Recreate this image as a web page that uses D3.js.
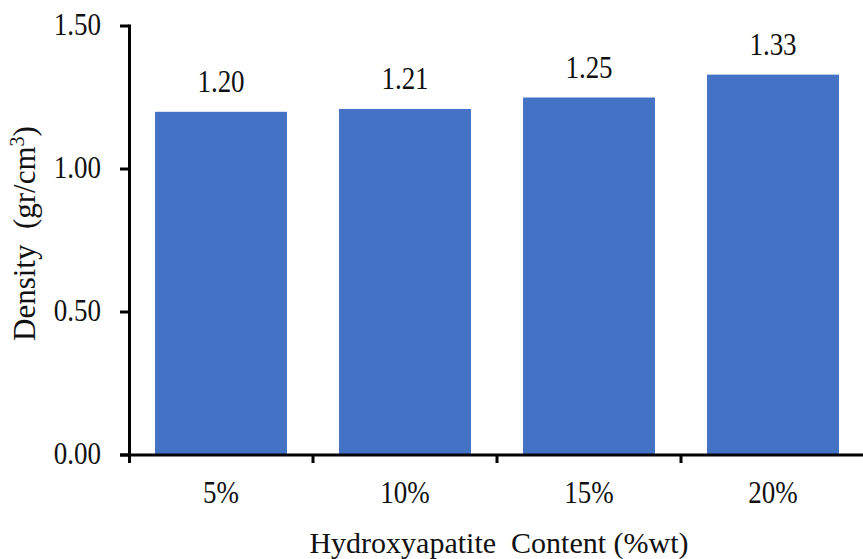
<!DOCTYPE html>
<html><head><meta charset="utf-8">
<script src="https://cdn.jsdelivr.net/npm/d3@7"></script>
<style>body{margin:0;background:#fff}svg{display:block}text{font-family:"Liberation Serif","Times New Roman",serif;fill:#111}</style>
</head><body><svg id="c" width="863" height="559"></svg>
<script>
const categories = ["5%", "10%", "15%", "20%"];
const densities = [1.20, 1.21, 1.25, 1.33];
const valueLabels = ["1.20", "1.21", "1.25", "1.33"];
const yTicks = [0, 0.5, 1.0, 1.5];

const svg = d3.select("#c");
const x0 = 129, x1 = 865, yTop = 26, yBot = 455;
const x = d3.scaleBand().domain(categories).range([x0, x1]).paddingInner(0.283).paddingOuter(0.1415);
const y = d3.scaleLinear().domain([0, 1.5]).range([yBot, yTop]);
const step = x.step(), pad = step * 0.283 / 2;
const stretch = "scale(1,1.15)";

// bars
svg.selectAll("rect.bar").data(categories).join("rect")
  .attr("x", d => x(d)).attr("width", x.bandwidth())
  .attr("y", (d, i) => y(densities[i])).attr("height", (d, i) => yBot - y(densities[i]))
  .attr("fill", "#4472C4");

// value labels
svg.selectAll("g.vl").data(categories).join("g")
  .attr("transform", (d, i) => `translate(${x(d) + x.bandwidth() / 2},${y(densities[i]) - 20}) ${stretch}`)
  .append("text").attr("text-anchor", "middle").attr("font-size", 27)
  .text((d, i) => valueLabels[i]);

// y axis
const g = svg.append("g");
g.append("line").attr("x1", x0 + 0.5).attr("x2", x0 + 0.5).attr("y1", yTop - 1.5).attr("y2", yBot + 8)
  .attr("stroke", "#000").attr("stroke-width", 3);
g.selectAll("line.yt").data(yTicks).join("line")
  .attr("x1", x0 - 9).attr("x2", x0).attr("y1", d => y(d)).attr("y2", d => y(d))
  .attr("stroke", "#000").attr("stroke-width", 3);
g.selectAll("g.yl").data(yTicks).join("g")
  .attr("transform", d => `translate(101,${y(d) + 9}) ${stretch}`)
  .append("text").attr("text-anchor", "end").attr("font-size", 27)
  .text(d => d3.format(".2f")(d));

// x axis
g.append("line").attr("x1", x0 - 9).attr("x2", 863).attr("y1", yBot).attr("y2", yBot)
  .attr("stroke", "#000").attr("stroke-width", 3);
g.selectAll("line.xt").data(categories.slice(1)).join("line")
  .attr("x1", d => x(d) - pad).attr("x2", d => x(d) - pad).attr("y1", yBot).attr("y2", yBot + 8)
  .attr("stroke", "#000").attr("stroke-width", 3);
g.selectAll("g.xl").data(categories).join("g")
  .attr("transform", d => `translate(${x(d) + x.bandwidth() / 2},503) ${stretch}`)
  .append("text").attr("text-anchor", "middle").attr("font-size", 27).text(d => d);

// axis titles
svg.append("text").attr("x", 499).attr("y", 553).attr("text-anchor", "middle").attr("font-size", 30)
  .style("white-space", "pre")
  .text("Hydroxyapatite  Content (%wt)");
const yt = svg.append("text").attr("transform", "translate(35,341) rotate(-90)")
  .attr("text-anchor", "start").attr("font-size", 31).style("white-space", "pre");
yt.append("tspan").text("Density  (gr/cm");
yt.append("tspan").attr("font-size", 20).attr("dy", -11).text("3");
yt.append("tspan").attr("dy", 11).text(")");
</script></body></html>
